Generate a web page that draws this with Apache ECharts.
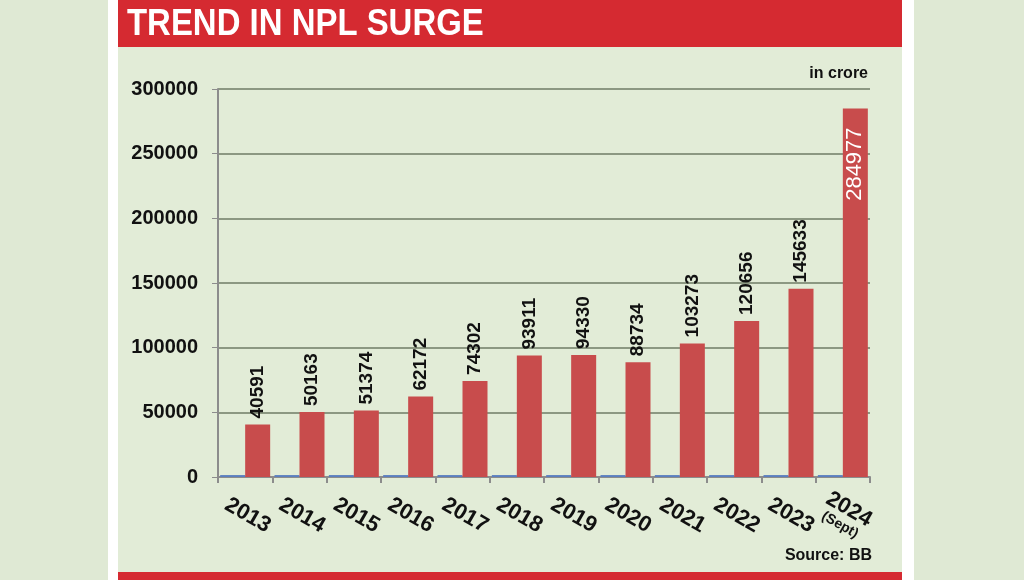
<!DOCTYPE html>
<html><head><meta charset="utf-8">
<script src="https://cdn.jsdelivr.net/npm/echarts@6/dist/echarts.min.js"></script>
<style>html,body{margin:0;padding:0;background:#dfe9d4;}#c{width:1024px;height:580px;}</style>
</head><body><div id="c"></div>
<script>
const categories = ['2013','2014','2015','2016','2017','2018','2019','2020','2021','2022','2023','2024'];
const nplValues = [40591,50163,51374,62172,74302,93911,94330,88734,103273,120656,145633,284977];
const baseValues = [1500,1500,1500,1500,1500,1500,1500,1500,1500,1500,1500,1500];
const yTicks = [0,50000,100000,150000,200000,250000,300000];
const title = 'TREND IN NPL SURGE';
const unitNote = 'in crore';
const sourceNote = 'Source: BB';

const chart = echarts.init(document.getElementById('c'));
const lastIdx = nplValues.length - 1;
chart.setOption({
  backgroundColor: '#dfe9d4',
  animation: false,
  graphic: [
    {type:'rect', shape:{x:108,y:0,width:806,height:580}, style:{fill:'#ffffff'}, z:-10},
    {type:'rect', shape:{x:118,y:0,width:784,height:580}, style:{fill:'#e2ecd7'}, z:-9},
    {type:'rect', shape:{x:118,y:0,width:784,height:47}, style:{fill:'#d52a31'}, z:-8},
    {type:'rect', shape:{x:118,y:572,width:784,height:8}, style:{fill:'#d52a31'}, z:-8},
    {type:'text', x:127, y:6, scaleX:0.89, style:{text:title, fill:'#ffffff', font:'bold 37px "Liberation Sans", Arial, sans-serif'}},
    {type:'text', right:156, top:66, style:{text:unitNote, fill:'#111', font:'bold 16px "Liberation Sans", Arial, sans-serif'}},
    {type:'text', right:152, top:548, style:{text:sourceNote, fill:'#111', font:'bold 16px "Liberation Sans", Arial, sans-serif'}}
  ],
  grid: {left:218, right:154, top:89, bottom:103, containLabel:false},
  xAxis: {
    type:'category', data: categories,
    axisLine:{show:true, lineStyle:{color:'#8c8c8c', width:2}},
    axisTick:{show:true, alignWithLabel:false, length:6, lineStyle:{color:'#8c8c8c', width:2}},
    axisLabel:{
      interval:0, rotate:-30, margin:37, color:'#111', align:'center', verticalAlign:'middle',
      fontSize:22, fontWeight:'bold', fontFamily:'"Liberation Sans", Arial, sans-serif',
      padding:[0,0,0,6],
      formatter: function(v, i){ return i === lastIdx ? v + '\n{s|(Sept)}' : v; },
      rich:{s:{fontSize:14, fontWeight:'bold', color:'#111', fontFamily:'"Liberation Sans", Arial, sans-serif'}}
    }
  },
  yAxis: {
    type:'value', min:0, max:300000, interval:50000,
    axisLine:{show:true, lineStyle:{color:'#8c8c8c', width:2}},
    axisTick:{show:true, length:6, lineStyle:{color:'#8c8c8c'}},
    splitLine:{show:true, lineStyle:{color:'#6f7c66', width:1.5}},
    axisLabel:{
      margin:20, color:'#111', fontSize:20, fontWeight:'bold',
      fontFamily:'"Liberation Sans", Arial, sans-serif',
      formatter: function(v){ return yTicks.indexOf(v) >= 0 ? String(v) : ''; }
    }
  },
  series: [
    {type:'bar', name:'base', data: baseValues, barWidth:25, barGap:'0%',
     itemStyle:{color:'#5b7fbf'}, z:3},
    {type:'bar', name:'NPL', data: nplValues.map(function(v,i){
        if (i === lastIdx) {
          return {value:v, label:{position:'insideTop', align:'right', verticalAlign:'middle', distance:19, color:'#ffffff', fontSize:22, fontWeight:'normal'}};
        }
        return v;
      }),
     barWidth:25, barGap:'0%',
     itemStyle:{color:'#c84c4c'},
     label:{show:true, position:'top', rotate:90, align:'left', verticalAlign:'middle', distance:6,
       color:'#111', fontSize:19, fontWeight:'bold', fontFamily:'"Liberation Sans", Arial, sans-serif'},
     z:3}
  ]
});
</script></body></html>
